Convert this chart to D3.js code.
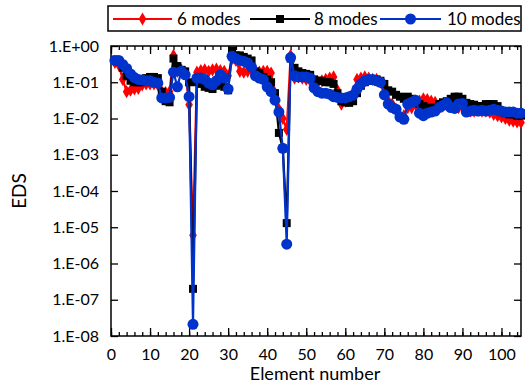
<!DOCTYPE html>
<html>
<head>
<meta charset="utf-8">
<script src="https://cdn.jsdelivr.net/npm/d3@7"></script>
<style>
  body { margin: 0; background: #fff; }
  text { font-family: Lato, "Open Sans", sans-serif; fill: #000; }
</style>
</head>
<body>
<div id="chart"></div>
<script>
// EDS per element, elements 1..105
var modes6 = [0.35, 0.30, 0.12, 0.055, 0.06, 0.065, 0.068, 0.085, 0.09, 0.09,
  0.09, 0.085, 0.055, 0.052, 0.055, 0.55, 0.2, 0.22, 0.19, 0.024,
  6e-6, 0.19, 0.21, 0.22, 0.2, 0.22, 0.23, 0.21, 0.2, 0.15,
  0.45, 0.4, 0.2, 0.19, 0.2, 0.22, 0.2, 0.19, 0.2, 0.2,
  0.18, 0.05, 0.018, 0.01, 0.005, 0.55, 0.13, 0.14, 0.13, 0.12,
  0.11, 0.1, 0.1, 0.11, 0.12, 0.13, 0.14, 0.06, 0.025, 0.03,
  0.035, 0.05, 0.12, 0.13, 0.14, 0.13, 0.12, 0.12, 0.1, 0.05,
  0.03, 0.025, 0.018, 0.012, 0.012, 0.02, 0.02, 0.025, 0.03, 0.035,
  0.033, 0.03, 0.028, 0.022, 0.022, 0.024, 0.022, 0.02, 0.02, 0.021,
  0.017, 0.016, 0.016, 0.017, 0.016, 0.016, 0.015, 0.013, 0.012, 0.011,
  0.01, 0.009, 0.0085, 0.008, 0.0078];

var modes8 = [0.42, 0.38, 0.25, 0.15, 0.11, 0.10, 0.10, 0.10, 0.13, 0.14,
  0.14, 0.13, 0.055, 0.03, 0.028, 0.45, 0.28, 0.22, 0.20, 0.10,
  2e-7, 0.10, 0.09, 0.075, 0.07, 0.065, 0.08, 0.09, 0.075, 0.06,
  0.75, 0.55, 0.55, 0.5, 0.45, 0.4, 0.2, 0.18, 0.14, 0.12,
  0.1, 0.05, 0.004, 0.0015, 1.3e-5, 0.45, 0.25, 0.2, 0.18, 0.17,
  0.16, 0.12, 0.11, 0.11, 0.1, 0.1, 0.09, 0.05, 0.03, 0.028,
  0.027, 0.03, 0.05, 0.08, 0.1, 0.11, 0.11, 0.12, 0.11, 0.09,
  0.06, 0.055, 0.045, 0.04, 0.035, 0.04, 0.035, 0.03, 0.025, 0.022,
  0.02, 0.018, 0.02, 0.025, 0.028, 0.03, 0.035, 0.04, 0.04, 0.035,
  0.027, 0.025, 0.024, 0.022, 0.022, 0.025, 0.025, 0.025, 0.022, 0.015,
  0.014, 0.013, 0.013, 0.012, 0.012];

var modes10 = [0.40, 0.40, 0.31, 0.24, 0.17, 0.135, 0.12, 0.115, 0.11, 0.11,
  0.10, 0.095, 0.037, 0.037, 0.038, 0.19, 0.075, 0.20, 0.16, 0.04,
  2.1e-8, 0.13, 0.13, 0.12, 0.095, 0.085, 0.11, 0.16, 0.13, 0.065,
  0.52, 0.45, 0.40, 0.38, 0.34, 0.26, 0.15, 0.13, 0.12, 0.075,
  0.055, 0.032, 0.015, 0.0015, 3.4e-6, 0.48, 0.15, 0.14, 0.14, 0.14,
  0.13, 0.07, 0.055, 0.05, 0.05, 0.047, 0.04, 0.038, 0.037, 0.037,
  0.04, 0.044, 0.065, 0.09, 0.11, 0.12, 0.12, 0.11, 0.1, 0.045,
  0.025, 0.02, 0.018, 0.011, 0.0095, 0.025, 0.028, 0.032, 0.014, 0.012,
  0.014, 0.015, 0.016, 0.02, 0.023, 0.027, 0.02, 0.019, 0.025, 0.026,
  0.015, 0.016, 0.017, 0.016, 0.017, 0.016, 0.017, 0.018, 0.017, 0.016,
  0.015, 0.015, 0.015, 0.014, 0.014];

var seriesNames = ['6 modes', '8 modes', '10 modes'];
var seriesColors = ['#ff0000', '#000000', '#0033cc'];
var seriesShapes = [d3.symbolDiamond, d3.symbolSquare, d3.symbolCircle];
var seriesSizes = [50, 64, 95];
var yTicks = [1e0, 1e-1, 1e-2, 1e-3, 1e-4, 1e-5, 1e-6, 1e-7, 1e-8];
var yTickLabels = ['1.E+00', '1.E-01', '1.E-02', '1.E-03', '1.E-04', '1.E-05', '1.E-06', '1.E-07', '1.E-08'];
var xTicks = [0, 10, 20, 30, 40, 50, 60, 70, 80, 90, 100];

var margin = {top: 46, right: 4, bottom: 50, left: 111};
var width_svg = 525, height_svg = 386;
var width = width_svg - margin.left - margin.right;
var height = height_svg - margin.top - margin.bottom;

var svg = d3.select('#chart').append('svg')
    .attr('width', width_svg)
    .attr('height', height_svg);

var x = d3.scaleLinear().domain([0, 105]).range([margin.left, margin.left + width]);
var y = d3.scaleLog().domain([1e-8, 1]).range([margin.top + height, margin.top]);

// minor x ticks every 2, inside
var minor = d3.range(0, 106, 2);

var axisG = svg.append('g');
axisG.append('g')
    .attr('transform', 'translate(0,' + (margin.top + height) + ')')
    .call(d3.axisBottom(x).tickValues(minor).tickSize(-4).tickFormat(''));
axisG.append('g')
    .attr('transform', 'translate(0,' + (margin.top + height) + ')')
    .call(d3.axisBottom(x).tickValues(xTicks).tickSize(-8).tickPadding(13).tickFormat(d3.format('d')));
axisG.append('g')
    .attr('transform', 'translate(0,' + margin.top + ')')
    .call(d3.axisTop(x).tickValues(minor).tickSize(-4).tickFormat(''));
axisG.append('g')
    .attr('transform', 'translate(0,' + margin.top + ')')
    .call(d3.axisTop(x).tickValues(xTicks).tickSize(-8).tickFormat(''));
axisG.append('g')
    .attr('transform', 'translate(' + margin.left + ',0)')
    .call(d3.axisLeft(y).tickValues(yTicks).tickSize(-7).tickPadding(12)
        .tickFormat(function(d, i) { return yTickLabels[i]; }));
axisG.append('g')
    .attr('transform', 'translate(' + (margin.left + width) + ',0)')
    .call(d3.axisRight(y).tickValues(yTicks).tickSize(-7).tickFormat(''));

axisG.selectAll('.domain').remove();
axisG.selectAll('line').attr('stroke', '#000').attr('stroke-width', 1.3);
axisG.selectAll('text').style('font-size', '16px').style('font-family', 'Lato, sans-serif');

// frame
svg.append('rect')
    .attr('x', margin.left)
    .attr('y', margin.top)
    .attr('width', width)
    .attr('height', height)
    .attr('fill', 'none')
    .attr('stroke', '#000')
    .attr('stroke-width', 1.5);

var allSeries = [modes6, modes8, modes10];
var line = d3.line()
    .x(function(d, i) { return x(i + 1); })
    .y(function(d) { return y(d); });

allSeries.forEach(function(vals, k) {
    var g = svg.append('g');
    g.append('path')
        .datum(vals)
        .attr('fill', 'none')
        .attr('stroke', seriesColors[k])
        .attr('stroke-width', 2.2)
        .attr('d', line);
    g.selectAll('path.pt')
        .data(vals)
        .join('path')
        .attr('class', 'pt')
        .attr('transform', function(d, i) { return 'translate(' + x(i + 1) + ',' + y(d) + ')'; })
        .attr('d', d3.symbol().type(seriesShapes[k]).size(seriesSizes[k]))
        .attr('fill', seriesColors[k]);
});

// axis titles
svg.append('text')
    .attr('x', 315)
    .attr('y', 380)
    .attr('text-anchor', 'middle')
    .style('font-size', '18px')
    .text('Element number');

svg.append('text')
    .attr('transform', 'translate(26,' + (margin.top + height / 2) + ') rotate(-90)')
    .attr('text-anchor', 'middle')
    .style('font-size', '19px')
    .text('EDS');

// legend
var legend = svg.append('g');
legend.append('rect')
    .attr('x', 108).attr('y', 6)
    .attr('width', 413).attr('height', 25)
    .attr('fill', '#fff')
    .attr('stroke', '#000')
    .attr('stroke-width', 1.5);

var legendPos = [{x0: 113, x1: 172, t: 177}, {x0: 250, x1: 310, t: 314}, {x0: 380, x1: 441, t: 447}];
seriesNames.forEach(function(name, k) {
    var p = legendPos[k];
    legend.append('line')
        .attr('x1', p.x0).attr('x2', p.x1)
        .attr('y1', 19).attr('y2', 19)
        .attr('stroke', seriesColors[k])
        .attr('stroke-width', 2);
    legend.append('path')
        .attr('transform', 'translate(' + (p.x0 + p.x1) / 2 + ',19)')
        .attr('d', d3.symbol().type(seriesShapes[k]).size(seriesSizes[k]))
        .attr('fill', seriesColors[k]);
    legend.append('text')
        .attr('x', p.t).attr('y', 25)
        .style('font-size', '17px')
        .text(name);
});
</script>
</body>
</html>
